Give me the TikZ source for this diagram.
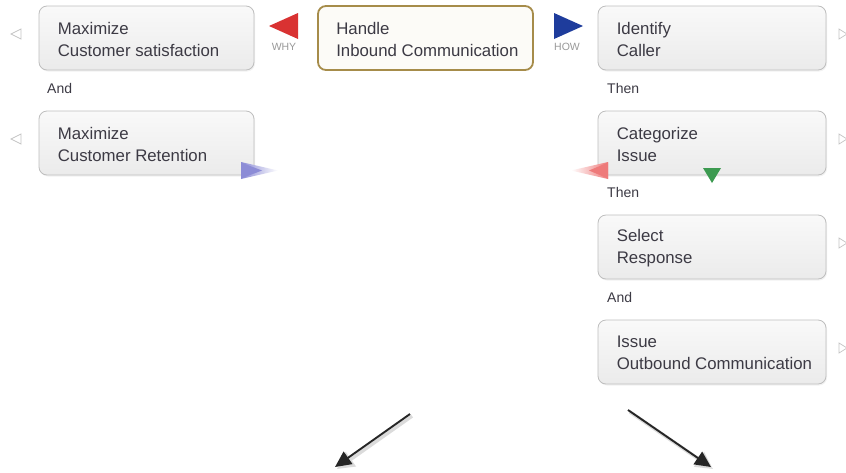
\documentclass[tikz,border=0pt]{standalone}
\usepackage{fontspec}
\setmainfont{Liberation Sans}
\usetikzlibrary{shadows,arrows.meta}
\definecolor{txtc}{HTML}{3C3A44}
\definecolor{boxline}{HTML}{BEBEBE}
\definecolor{boxtop}{HTML}{F9F9F9}
\definecolor{boxbot}{HTML}{EBEBEB}
\definecolor{mainfill}{HTML}{FCFBF7}
\definecolor{goldline}{HTML}{A68C4A}
\definecolor{whyred}{HTML}{D93232}
\definecolor{howblue}{HTML}{1E3C9C}
\definecolor{fadeblue}{HTML}{8C8CD6}
\definecolor{fadered}{HTML}{EE7A7A}
\definecolor{greentri}{HTML}{3C9A50}
\definecolor{hollow}{HTML}{C4C4C4}
\tikzset{
  box/.style={draw=boxline, line width=0.8pt, rounded corners=8pt,
    top color=boxtop, bottom color=boxbot,
    minimum height=64pt, inner sep=0pt,
    drop shadow={opacity=0.10, shadow xshift=1pt, shadow yshift=-1.5pt}},
  mainbox/.style={draw=goldline, line width=1.8pt, rounded corners=8pt,
    fill=mainfill, minimum height=64pt, minimum width=215pt, inner sep=0pt},
  txt/.style={text=txtc, font=\fontsize{16.8}{22}\selectfont, align=left, inner sep=0pt, anchor=west},
  conj/.style={text=txtc, font=\fontsize{14}{16}\selectfont, inner sep=0pt, anchor=base west},
  tiny/.style={text=gray!80, font=\fontsize{10.5}{12}\selectfont, inner sep=0pt, anchor=base},
  hollowtri/.style={draw=hollow, line width=0.7pt, fill=white},
  bigarrow/.style={line width=1.9pt, black!85, -{Triangle[length=16pt, width=15pt]}},
  arrshadow/.style={line width=3.5pt, black!14, -{Triangle[length=17pt, width=17pt]}}
}
\begin{document}
\begin{tikzpicture}[x=1pt,y=-1pt]
\useasboundingbox (0,0) rectangle (846,472);
\fill[white] (0,0) rectangle (846,472);

% left column
\node[box, minimum width=215pt] (b1) at (146.5,38) {};
\node[txt] (t1) at ([xshift=19pt,yshift=-1pt]b1.west) {Maximize\\Customer satisfaction};
\node[conj] (and1) at (47,93) {And};
\node[box, minimum width=215pt] (b2) at (146.5,143) {};
\node[txt] (t2) at ([xshift=19pt,yshift=-1pt]b2.west) {Maximize\\Customer Retention};

% center
\node[mainbox] (h) at (425.5,38) {};
\node[txt] (th) at ([xshift=19pt,yshift=-1pt]h.west) {Handle\\Inbound Communication};

% right column
\node[box, minimum width=228pt] (r1) at (712,38) {};
\node[txt] (tr1) at ([xshift=19pt,yshift=-1pt]r1.west) {Identify\\Caller};
\node[conj] (then1) at (607,93) {Then};
\node[box, minimum width=228pt] (r2) at (712,143) {};
\node[txt] (tr2) at ([xshift=19pt,yshift=-1pt]r2.west) {Categorize\\Issue};
\node[conj] (then2) at (607,197) {Then};
\node[box, minimum width=228pt] (r3) at (712,247) {};
\node[txt] (tr3) at ([xshift=19pt,yshift=-1pt]r3.west) {Select\\Response};
\node[conj] (and2) at (607,302) {And};
\node[box, minimum width=228pt] (r4) at (712,352) {};
\node[txt] (tr4) at ([xshift=19pt,yshift=-1pt]r4.west) {Issue\\Outbound Communication};

% WHY / HOW markers
\fill[whyred] (269,26) -- (298,13) -- (298,39) -- cycle;
\node[tiny] (why) at (284,50) {WHY};
\fill[howblue] (583,26) -- (554,13) -- (554,39) -- cycle;
\node[tiny] (how) at (567,50) {HOW};

% hollow side triangles
\draw[hollowtri] (11,34) -- (21,29) -- (21,39) -- cycle;
\draw[hollowtri] (11,139) -- (21,134) -- (21,144) -- cycle;
\foreach \yy in {34,139,243,348}{
  \draw[hollowtri] (847,\yy) -- (839,\yy-5) -- (839,\yy+5) -- cycle;
}

% faded triangles
\shade[left color=fadeblue, right color=white] (241,162) -- (241,179) -- (278,170.5) -- cycle;
\fill[fadeblue] (241,162.5) -- (241,178.5) -- (262,170.5) -- cycle;
\shade[left color=white, right color=fadered] (571,170.5) -- (608,162) -- (608,179) -- cycle;
\fill[fadered] (589,170.5) -- (608,162.5) -- (608,178.5) -- cycle;
\fill[greentri] (703,168) -- (721,168) -- (712,183) -- cycle;

% bottom arrows
\coordinate (la0) at (410,414);
\coordinate (la1) at (335,467);
\coordinate (ra0) at (628,410);
\coordinate (ra1) at (711,467);
\draw[arrshadow] ([shift={(2,2)}]la0) -- ([shift={(2,2)}]la1);
\draw[arrshadow] ([shift={(2,2)}]ra0) -- ([shift={(2,2)}]ra1);
\draw[bigarrow] (la0) -- (la1);
\draw[bigarrow] (ra0) -- (ra1);
\end{tikzpicture}
\end{document}
